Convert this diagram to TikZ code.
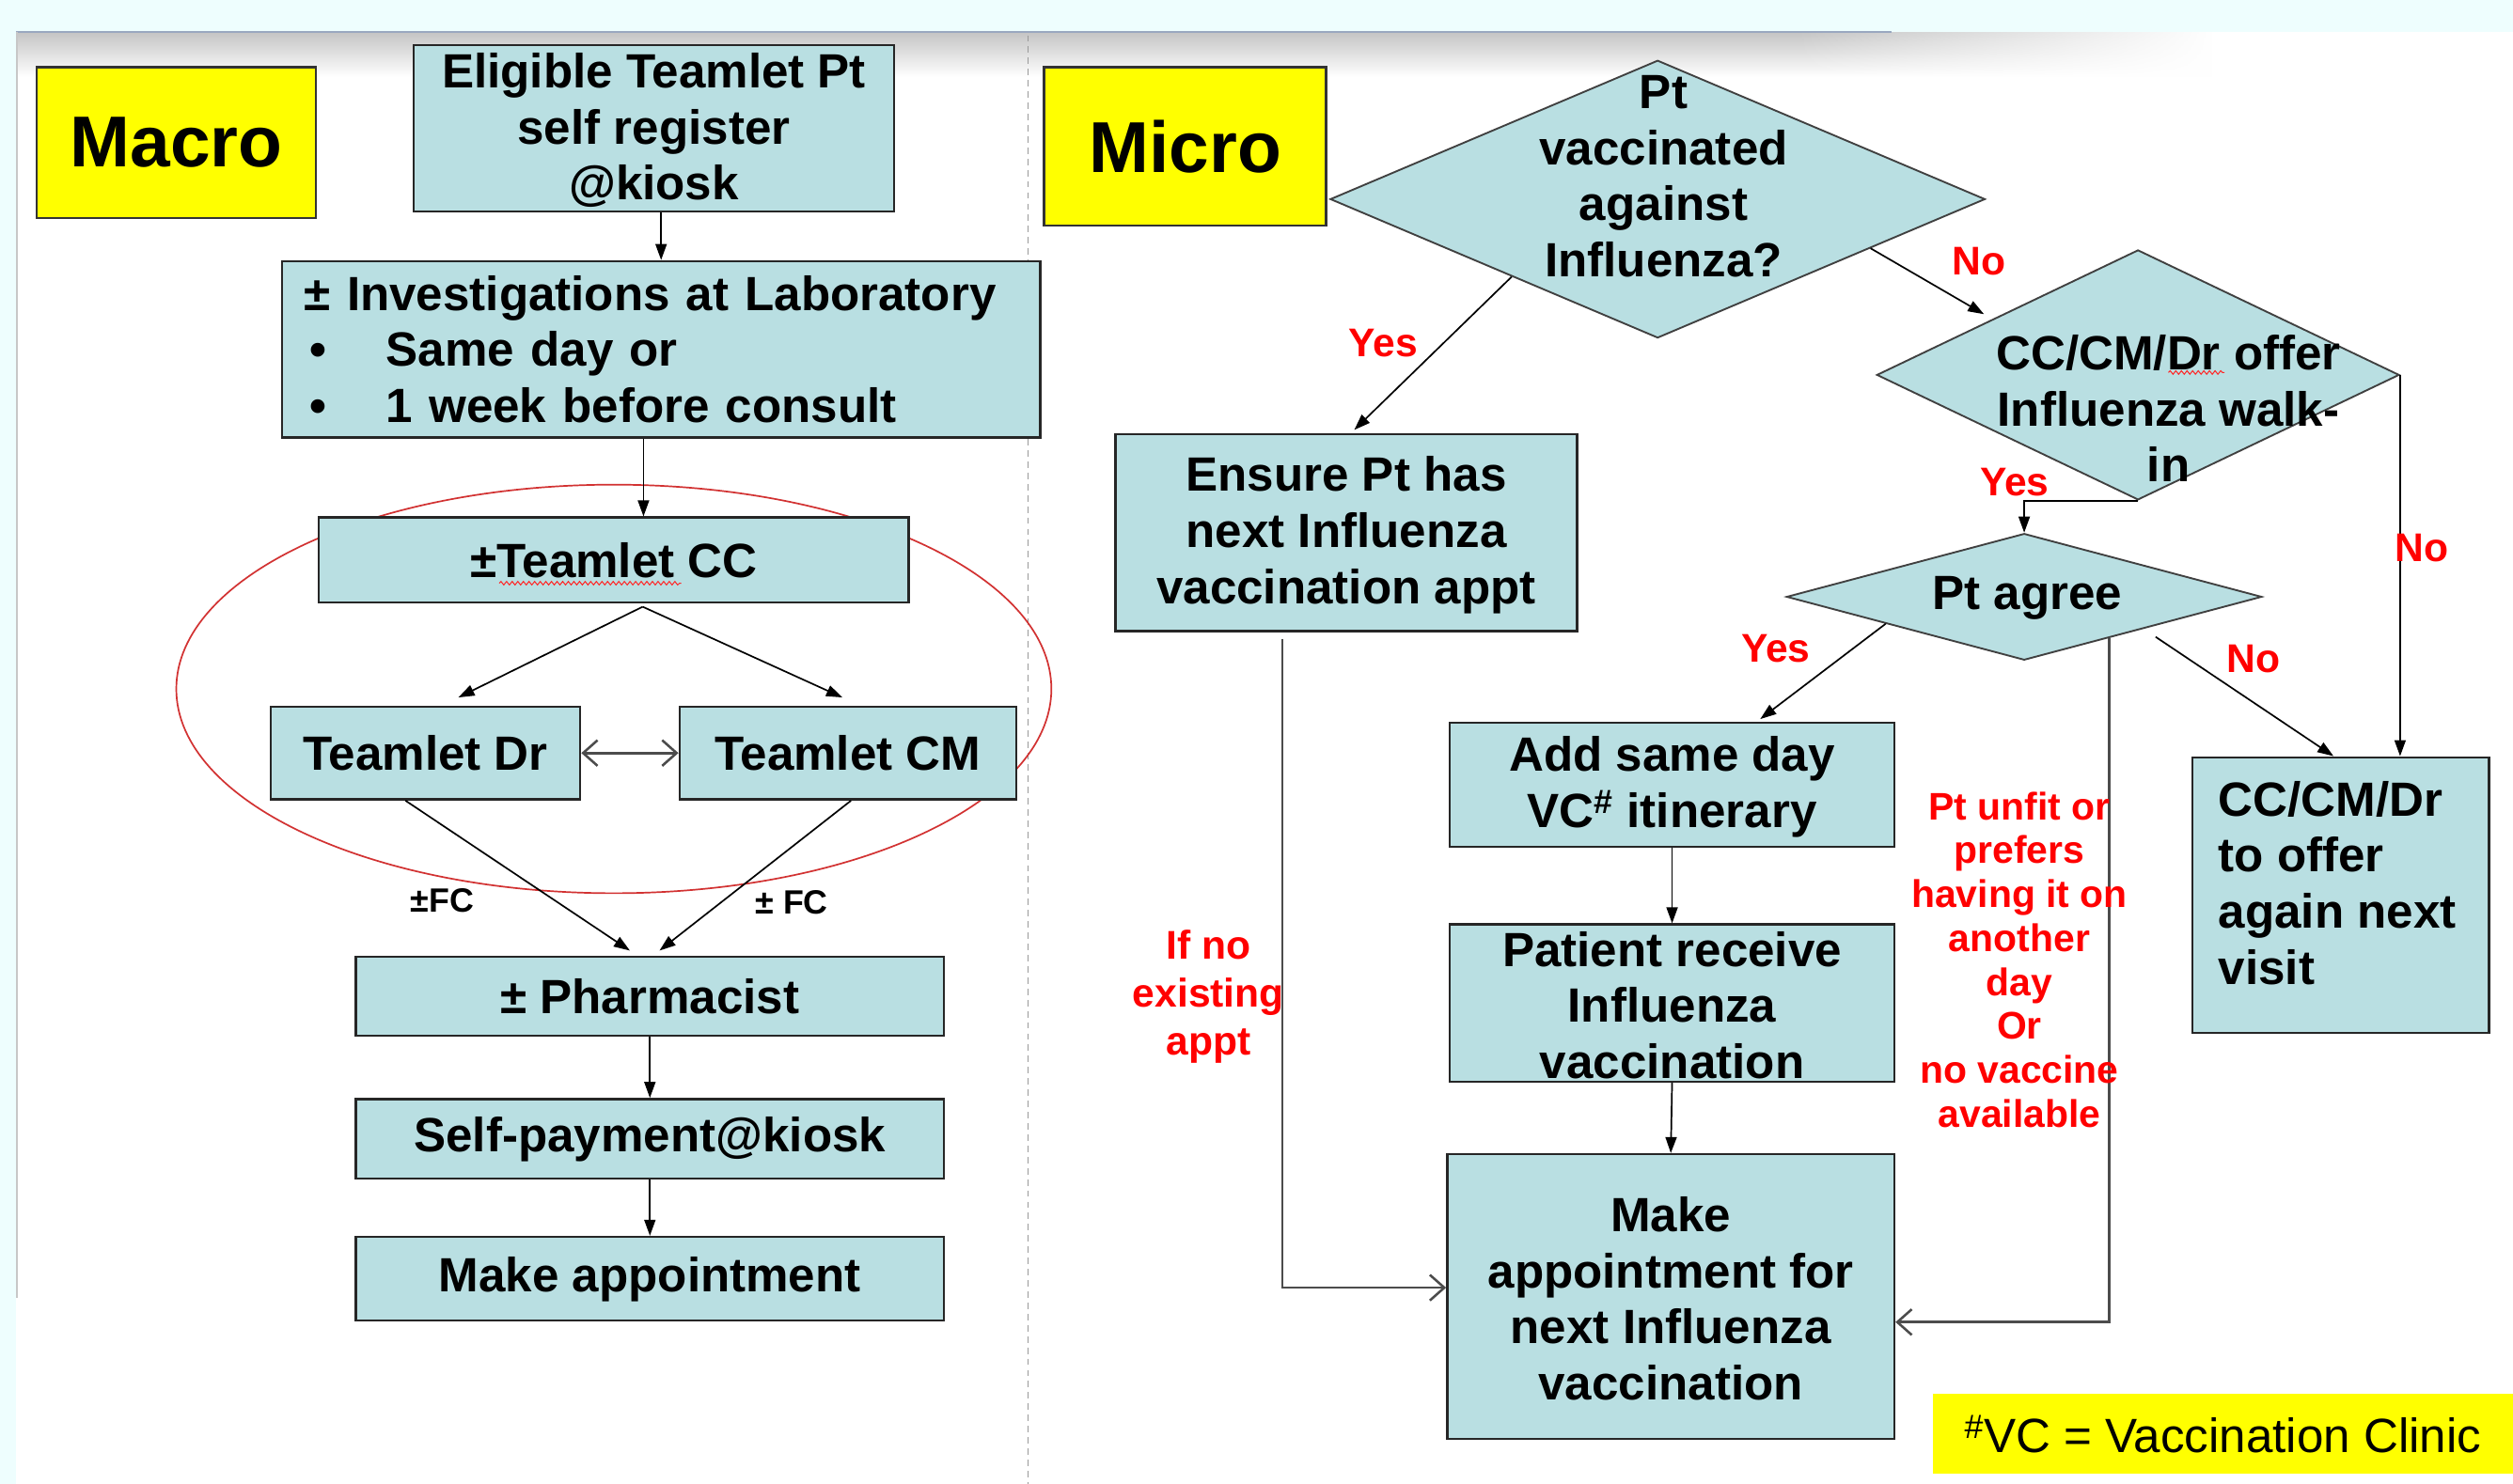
\documentclass[tikz,border=0pt]{standalone}
\usepackage{fontspec}
\setmainfont{Liberation Sans}
\usetikzlibrary{shapes.geometric,arrows.meta,calc,fadings,decorations.pathmorphing}
\definecolor{boxc}{HTML}{B9DFE2}
\definecolor{bgc}{HTML}{EEFEFE}
\definecolor{ylw}{HTML}{FFFF00}
\definecolor{redt}{HTML}{FF0000}
\definecolor{topline}{HTML}{9AA8C0}
\definecolor{ellc}{HTML}{D23232}
\begin{document}
\begin{tikzpicture}[x=1pt,y=-1pt,
  box/.style={draw=black!85, line width=1.4pt, fill=boxc, inner sep=0pt,
    font=\bfseries\fontsize{30}{35}\selectfont, align=center},
  ybox/.style={draw=black!80, line width=1.4pt, fill=ylw, inner sep=0pt,
    font=\bfseries\fontsize{45}{50}\selectfont},
  dia/.style={diamond, draw=black!75, line width=1.1pt, fill=boxc, inner sep=0pt},
  btxt/.style={font=\bfseries\fontsize{30}{35}\selectfont, align=center, inner sep=0pt},
  redlbl/.style={text=redt, font=\bfseries\fontsize{25}{30}\selectfont, align=center, inner sep=0pt},
  fclbl/.style={font=\bfseries\fontsize{21}{25}\selectfont, inner sep=0pt},
  arr/.style={-{Triangle[length=10pt,width=7pt]}, line width=1pt, black},
  oarr/.style={-{Straight Barb[length=9pt,width=16pt]}, line width=1.5pt, black!70},
  squig/.style={draw=red!85, line width=0.6pt, decorate,
    decoration={snake, amplitude=1.1pt, segment length=3.5pt}}]
\useasboundingbox (0,0) rectangle (1568,926);

% ---- background (slide) ----
\fill[bgc] (0,0) rectangle (1568,926);
\fill[white] (10,20) rectangle (1568,926);
\shade[top color=black!23, bottom color=white] (10,20) rectangle (1120,48);
\shade[top color=black!23, bottom color=white, path fading=east] (1120,20) rectangle (1380,48);
\draw[topline, line width=1.5pt] (10,20) -- (1180,20);
\draw[black!22, line width=1.5pt] (10.5,20) -- (10.5,810);
\draw[black!40, line width=0.8pt, dash pattern=on 4pt off 3pt] (641.5,22) -- (641.5,926);

% ---- Macro side ----
\draw[ellc, line width=1pt] (383,430) ellipse [x radius=273, y radius=127.5];

\node[ybox, minimum width=174pt, minimum height=94pt] (macro) at (110,89) {Macro};
\node[box, minimum width=300pt, minimum height=104pt] (elig) at (408,80)
  {\strut Eligible Teamlet Pt\\self register\\@kiosk};
\node[box, minimum width=473pt, minimum height=110pt, text width=445pt, align=left, inner xsep=14pt] (inv) at (412.5,218)
  {± Investigations at Laboratory\\
   \makebox[51pt][l]{\hspace{3pt}•}Same day or\\
   \makebox[51pt][l]{\hspace{3pt}•}1 week before consult};
\node[box, minimum width=368pt, minimum height=53pt] (cc) at (383,349.5) {±Teamlet CC};
\node[box, minimum width=193pt, minimum height=58pt] (dr) at (265.5,470) {Teamlet Dr};
\node[box, minimum width=210pt, minimum height=58pt] (cm) at (529,470) {Teamlet CM};
\node[box, minimum width=367pt, minimum height=49.5pt] (pharm) at (405.5,621.75) {± Pharmacist};
\node[box, minimum width=367pt, minimum height=49.5pt, text height=22pt, text depth=6pt] (selfpay) at (405.5,710.7) {Self-payment@kiosk};
\node[box, minimum width=367pt, minimum height=52pt, text height=22pt, text depth=6pt] (mk1) at (405.5,798) {Make appointment};

\draw[squig] (311.5,364) -- (425,364);

\draw[arr] (elig.south -| inv.north) -- (inv.north);
\draw[arr] ($(inv.south)+(-11,0)$) -- ($(cc.north)+(18.5,0)$);
\draw[arr] ($(cc.south)+(18,2)$) -- ($(dr.north)+(20.5,-5)$);
\draw[arr] ($(cc.south)+(18,2)$) -- ($(cm.north)+(-3.4,-5)$);
\draw[oarr, {Straight Barb[length=9pt,width=16pt]}-{Straight Barb[length=9pt,width=16pt]}] (dr.east) -- (cm.west);
\draw[arr] ($(dr.south)+(-12.5,0)$) -- ($(pharm.north)+(-12.5,-3)$);
\draw[arr] ($(cm.south)+(2,0)$) -- ($(pharm.north)+(6,-3)$);
\draw[arr] (pharm.south) -- (selfpay.north);
\draw[arr] (selfpay.south) -- (mk1.north);

\node[fclbl] (fc1) at (276,562) {±FC};
\node[fclbl] (fc2) at (494,563) {± FC};

% ---- Micro side ----
\node[ybox, minimum width=176pt, minimum height=99pt] (micro) at (739.5,91.4) {Micro};

\node[dia, minimum width=408.6pt, minimum height=173.3pt] (d1) at (1034.3,124.3) {};
\node[btxt] (d1t) at (1038,110) {Pt\\vaccinated\\against\\Influenza?};

\node[box, minimum width=288pt, minimum height=123pt] (ensure) at (840,332.5)
  {\strut Ensure Pt has\\next Influenza\\vaccination appt};

\node[dia, minimum width=326pt, minimum height=156pt] (d2) at (1334,234) {};
\node[btxt] (d2t) at (1353,255) {CC/CM/Dr offer\\Influenza walk-\\in};
\draw[squig] (1353,232.5) -- (1388,232.5);

\node[dia, minimum width=296.5pt, minimum height=79pt] (pta) at (1263,372.5) {};
\node[btxt] (ptat) at (1265,373) {Pt agree};

\node[box, minimum width=185pt, minimum height=172pt] (offer) at (1460.5,558.65) {};
\node[btxt, align=left, anchor=west] (offert) at (1384,551) {CC/CM/Dr\\to offer\\again next\\visit};

\node[box, minimum width=277.4pt, minimum height=77.6pt] (add) at (1043.3,489.8)
  {\strut Add same day\\VC\textsuperscript{\#} itinerary};
\node[box, minimum width=277.4pt, minimum height=98pt] (patient) at (1043.3,626)
  {\strut Patient receive\\Influenza\\vaccination};
\node[box, minimum width=279pt, minimum height=177.6pt] (mk2) at (1042.5,809.2)
  {\strut Make\\appointment for\\next Influenza\\vaccination};

\node[fill=ylw, minimum width=362pt, minimum height=50pt, inner sep=0pt,
  font=\fontsize{30}{35}\selectfont] (vc) at (1387,895) {\textsuperscript{\#}VC = Vaccination Clinic};

% connectors
\draw[arr, shorten >=6pt] (d1.-13) -- (d2.159);
\draw[arr] (d1.-152) -- ($(ensure.north)+(5,-2)$);
\draw[oarr] ($(ensure.south)+(-40,4)$) |- ($(mk2.west)+(0,-5.5)$);
\draw[arr] (d2.south) -| (pta.north);
\draw[arr] (d2.east) -- (d2.east |- offer.north);
\draw[arr] ($(pta.center)+(82,25)$) -- ($(offer.north)+(-4.5,0)$);
\draw[arr] (pta.-169) -- ($(add.north)+(55,-1.5)$);
\draw[arr] (add.south) -- (patient.north);
\draw[arr] (patient.south) -- (mk2.north);
\draw[oarr] ($(pta.center)+(53,26)$) |- ($(mk2.east)+(0,16)$);

% labels
\node[redlbl] (l1) at (863,214) {Yes};
\node[redlbl] (l2) at (1235,163) {No};
\node[redlbl] (l3) at (1257,301) {Yes};
\node[redlbl] (l4) at (1511,342) {No};
\node[redlbl] (l5) at (1108,405) {Yes};
\node[redlbl] (l6) at (1406,411) {No};
\node[redlbl] (l7) at (754,622) {If no\\existing\\appt};
\node[redlbl, font=\bfseries\fontsize{24}{27.4}\selectfont] (l8) at (1260,599)
  {Pt unfit or\\prefers\\having it on\\another\\day\\Or\\no vaccine\\available};
\end{tikzpicture}
\end{document}
